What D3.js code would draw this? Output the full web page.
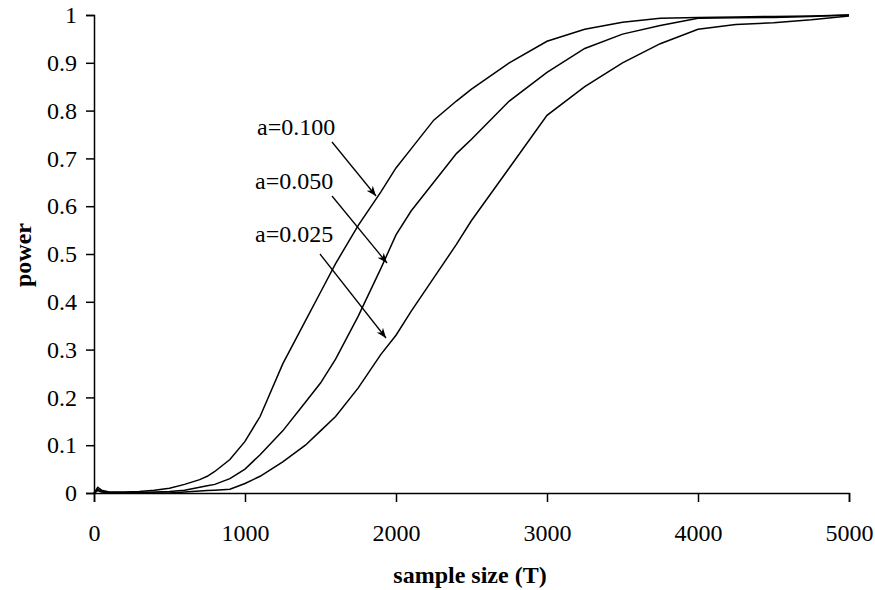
<!DOCTYPE html>
<html><head><meta charset="utf-8">
<script src="https://cdn.jsdelivr.net/npm/d3@7"></script>
<style>body{margin:0;background:#fff}text{font-family:"Liberation Serif","Times New Roman",serif}</style>
</head><body><svg id="c" width="875" height="590"></svg>
<script>
const sampleSizes = [0,25,50,100,200,300,400,500,600,700,750,800,900,1000,1100,1250,1400,1500,1600,1750,1900,2000,2100,2250,2400,2500,2750,3000,3250,3500,3750,4000,4250,4500,4750,5000];
const power100 = [0,0.012,0.006,0.002,0.002,0.003,0.006,0.01,0.018,0.028,0.035,0.045,0.07,0.108,0.16,0.27,0.36,0.42,0.48,0.56,0.63,0.68,0.72,0.78,0.82,0.845,0.9,0.945,0.97,0.985,0.993,0.995,0.996,0.997,0.998,1];
const power050 = [0,0.008,0.004,0.001,0.001,0.001,0.002,0.003,0.006,0.012,0.015,0.018,0.03,0.05,0.08,0.13,0.19,0.23,0.28,0.37,0.47,0.54,0.59,0.65,0.71,0.74,0.82,0.88,0.93,0.96,0.978,0.993,0.994,0.995,0.997,1];
const power025 = [0,0.005,0.002,0,0,0,0,0,0.002,0.004,0.005,0.006,0.008,0.02,0.035,0.065,0.1,0.13,0.16,0.22,0.29,0.33,0.38,0.45,0.52,0.57,0.68,0.79,0.85,0.9,0.94,0.97,0.98,0.984,0.99,0.998];
const series = [{label:"a=0.100",v:power100},{label:"a=0.050",v:power050},{label:"a=0.025",v:power025}];
const xTicks=[0,1000,2000,3000,4000,5000];
const yTicks=[0,0.1,0.2,0.3,0.4,0.5,0.6,0.7,0.8,0.9,1];

const svg=d3.select("#c");
const x=d3.scaleLinear().domain([0,5000]).range([94,849]);
const y=d3.scaleLinear().domain([0,1]).range([493,15]);
svg.append("defs").append("marker").attr("id","ah").attr("viewBox","0 0 10 10").attr("refX",10).attr("refY",5)
 .attr("markerWidth",10).attr("markerHeight",10).attr("markerUnits","userSpaceOnUse").attr("orient","auto")
 .append("path").attr("d","M0,1 L10,5 L0,9 L3,5 Z").attr("fill","#000");

const ya=svg.append("g").attr("transform","translate(94,0)").call(d3.axisLeft(y).tickValues(yTicks).tickSize(8).tickPadding(9).tickFormat(d=>d3.format("")(d)));
const xa=svg.append("g").attr("transform","translate(0,493)").call(d3.axisBottom(x).tickValues(xTicks).tickSize(9).tickPadding(22).tickFormat(d3.format("d")));
[ya,xa].forEach(a=>{a.selectAll("text").attr("font-size",24).attr("font-family","Liberation Serif").attr("fill","#000");
 a.selectAll("line,path").attr("stroke","#000").attr("stroke-width",1.5);});

const line=d3.line().x((d,i)=>x(sampleSizes[i])).y(d=>y(d));
series.forEach(s=>svg.append("path").attr("d",line(s.v)).attr("fill","none").attr("stroke","#000").attr("stroke-width",1.5));

const labels=[{t:"a=0.100",tx:257,ty:135,x1:332,y1:142,x2:376,y2:196},
{t:"a=0.050",tx:255,ty:189,x1:332,y1:196,x2:387,y2:263},
{t:"a=0.025",tx:255,ty:242,x1:320,y1:254,x2:386,y2:338}];
labels.forEach(l=>{
 svg.append("text").attr("x",l.tx).attr("y",l.ty).attr("font-size",24).text(l.t);
 svg.append("line").attr("x1",l.x1).attr("y1",l.y1).attr("x2",l.x2).attr("y2",l.y2).attr("stroke","#000").attr("stroke-width",1.3).attr("marker-end","url(#ah)");
});
svg.append("text").attr("transform","translate(25,255) rotate(-90)").attr("text-anchor","middle").attr("dominant-baseline","middle").attr("font-size",24).attr("font-weight","bold").text("power");
svg.append("text").attr("x",470).attr("y",583).attr("text-anchor","middle").attr("font-size",24).attr("font-weight","bold").text("sample size (T)");
</script></body></html>
